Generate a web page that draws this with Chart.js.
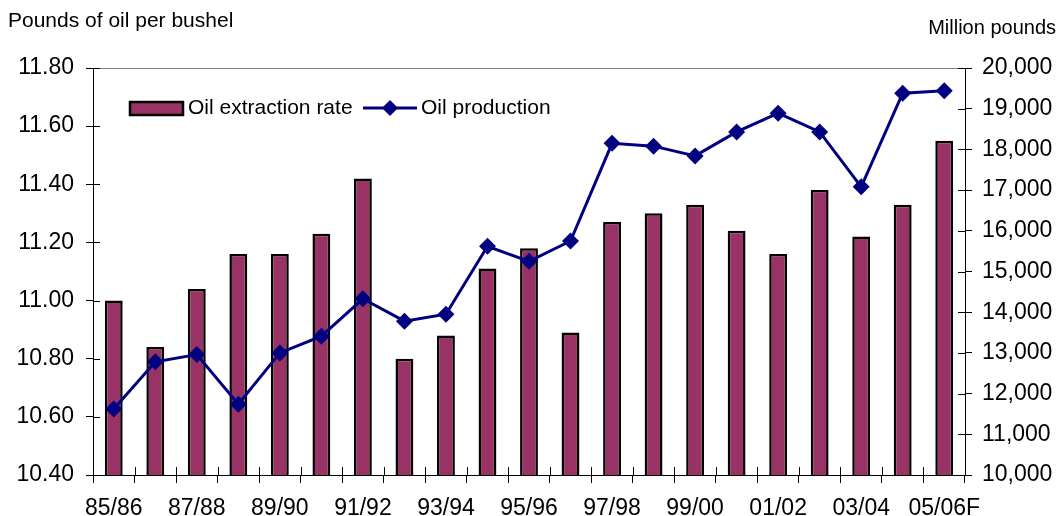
<!DOCTYPE html>
<html>
<head>
<meta charset="utf-8">
<script src="https://cdn.jsdelivr.net/npm/chart.js@4"></script>
<style>
	html, body { margin: 0; padding: 0; background: #fff; }
	#wrap { width: 1060px; height: 516px; position: relative; }
</style>
</head>
<body>
<div id="wrap"><canvas id="chart" width="1060" height="516"></canvas></div>
<script>
const seasons = [ "85/86", "86/87", "87/88", "88/89", "89/90", "90/91", "91/92", "92/93", "93/94", "94/95",
		"95/96", "96/97", "97/98", "98/99", "99/00", "00/01", "01/02", "02/03", "03/04", "04/05", "05/06F" ];
// pounds of oil per bushel
const extractionRate = [ 11.00, 10.84, 11.04, 11.16, 11.16, 11.23, 11.42, 10.80, 10.88, 11.11,
		11.18, 10.89, 11.27, 11.30, 11.33, 11.24, 11.16, 11.38, 11.22, 11.33, 11.55 ];
// million pounds
const oilProduction = [ 11620, 12780, 12960, 11740, 13000, 13410, 14330, 13780, 13950, 15620,
		15250, 15750, 18150, 18080, 17840, 18430, 18890, 18430, 17080, 19380, 19440 ];

const leftTitle = "Pounds of oil per bushel";
const rightTitle = "Million pounds";

const FONT = "Arial, 'Liberation Sans', sans-serif";
const BAR_COLOR = "#993366";
const LINE_COLOR = "#000080";

const extras = {
	id: "extras",
	afterDraw(chart)
	{
		const { ctx, chartArea: { top, bottom, left, right } } = chart;
		ctx.save();

			// top border of the plot area
		ctx.strokeStyle = "#808080";
		ctx.lineWidth = 1;
		ctx.beginPath();
		ctx.moveTo(left, top + 0.5);
		ctx.lineTo(right, top + 0.5);
		ctx.stroke();

			// inward half of the crossing ticks
		ctx.strokeStyle = "#000";
		ctx.beginPath();
		const y = chart.scales.y, y1 = chart.scales.y1, x = chart.scales.x;
		y.ticks.forEach((t, i) => {
			const p = Math.round(y.getPixelForTick(i)) + 0.5;
			ctx.moveTo(left, p); ctx.lineTo(left + 7, p);
		});
		y1.ticks.forEach((t, i) => {
			const p = Math.round(y1.getPixelForTick(i)) + 0.5;
			ctx.moveTo(right - 7, p); ctx.lineTo(right, p);
		});
		for (let i = 0; i <= seasons.length; i++)
		{
			const p = Math.round(x.getPixelForValue(i - 0.5)) + 0.5;
			ctx.moveTo(p, bottom - 8); ctx.lineTo(p, bottom);
		}
		ctx.stroke();

			// axis titles
		ctx.fillStyle = "#000";
		ctx.font = "21px " + FONT;
		ctx.textBaseline = "alphabetic";
		ctx.textAlign = "left";
		ctx.fillText(leftTitle, 8, 27);
		ctx.font = "20px " + FONT;
		ctx.textAlign = "right";
		ctx.fillText(rightTitle, 1056, 34);

			// legend inside the plot area
		const ds0 = chart.data.datasets[0], ds1 = chart.data.datasets[1];
		ctx.fillStyle = ds0.backgroundColor;
		ctx.fillRect(130, 102, 53, 13);
		ctx.strokeStyle = "#000";
		ctx.lineWidth = 2.5;
		ctx.strokeRect(130, 102, 53, 13);
		ctx.fillStyle = "#000";
		ctx.font = "21px " + FONT;
		ctx.textAlign = "left";
		ctx.textBaseline = "middle";
		ctx.fillText(ds0.label, 188, 108);

		ctx.strokeStyle = ds1.borderColor;
		ctx.lineWidth = 3;
		ctx.beginPath();
		ctx.moveTo(363, 108); ctx.lineTo(417, 108);
		ctx.stroke();
		ctx.fillStyle = ds1.borderColor;
		ctx.beginPath();
		ctx.moveTo(390, 100); ctx.lineTo(398, 108); ctx.lineTo(390, 116); ctx.lineTo(382, 108);
		ctx.closePath();
		ctx.fill();
		ctx.fillStyle = "#000";
		ctx.fillText(ds1.label, 421, 108);

		ctx.restore();
	}
};

new Chart(document.getElementById("chart"), {
	data: {
		labels: seasons,
		datasets: [{
			type: "bar",
			label: "Oil extraction rate",
			data: extractionRate,
			yAxisID: "y",
			backgroundColor: BAR_COLOR,
			borderColor: "#000",
			borderWidth: 2.5,
			borderSkipped: false,
			categoryPercentage: 1,
			barPercentage: 0.43,
			order: 2,
		},
		{
			type: "line",
			label: "Oil production",
			data: oilProduction,
			yAxisID: "y1",
			borderColor: LINE_COLOR,
			backgroundColor: LINE_COLOR,
			borderWidth: 3,
			pointStyle: "rectRot",
			pointRadius: 8.5,
			pointBorderWidth: 0,
			pointBackgroundColor: LINE_COLOR,
			tension: 0,
			order: 1,
		}]
	},
	options: {
		responsive: false,
		animation: false,
		layout: { padding: { top: 68, left: 0, right: 0, bottom: 0 } },
		plugins: {
			legend: { display: false },
			tooltip: { enabled: false },
		},
		scales: {
			x: {
				afterFit: s => { s.height = 41; },
				grid: { offset: true, drawOnChartArea: false, tickLength: 8, color: "#000" },
				border: { color: "#000" },
				ticks: {
					autoSkip: false,
					maxRotation: 0,
					padding: 12,
					color: "#000",
					font: { family: FONT, size: 23 },
					callback: (v, i) => (i % 2 == 0 ? seasons[i] : ""),
				},
			},
			y: {
				position: "left",
				min: 10.4,
				max: 11.8,
				afterFit: s => { s.width = 93; },
				grid: { drawOnChartArea: false, tickLength: 7, color: "#000" },
				border: { color: "#000" },
				ticks: {
					stepSize: 0.2,
					padding: 12,
					color: "#000",
					font: { family: FONT, size: 23 },
					callback: v => v.toFixed(2),
				},
			},
			y1: {
				position: "right",
				min: 10000,
				max: 20000,
				afterFit: s => { s.width = 95; },
				grid: { drawOnChartArea: false, tickLength: 7, color: "#000" },
				border: { color: "#000" },
				ticks: {
					stepSize: 1000,
					padding: 10,
					color: "#000",
					font: { family: FONT, size: 23 },
					callback: v => v.toLocaleString("en-US"),
				},
			},
		}
	},
	plugins: [ extras ],
});
</script>
</body>
</html>
